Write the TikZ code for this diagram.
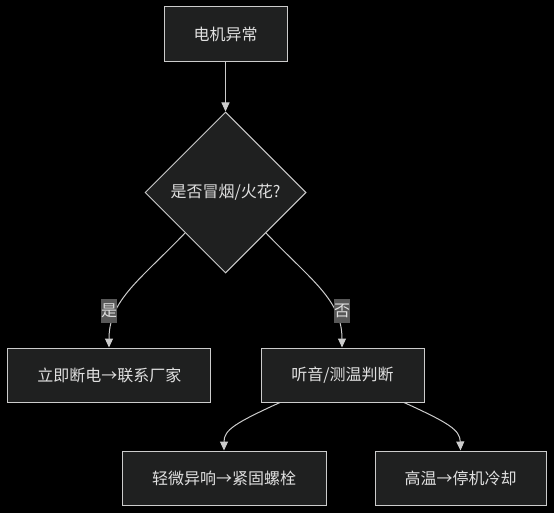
\documentclass[tikz,border=0pt]{standalone}
\usepackage{fontspec}
\setmainfont{Noto Sans CJK SC}
\usetikzlibrary{shapes.geometric,arrows.meta}
\definecolor{bgc}{HTML}{000000}
\definecolor{boxfill}{HTML}{1F2020}
\definecolor{boxline}{HTML}{CCCCCC}
\definecolor{txt}{HTML}{E0E0E0}
\definecolor{lblfill}{HTML}{585858}
\tikzset{
  x=1pt, y=-1pt,
  box/.style={draw=boxline, fill=boxfill, line width=1pt, text=txt, font=\fontsize{16}{19}\selectfont, inner sep=0pt, anchor=center},
  dia/.style={diamond, draw=boxline, fill=boxfill, line width=1pt, text=txt, font=\fontsize{16}{19}\selectfont, inner sep=0pt, minimum width=161pt, minimum height=161pt},
  lbl/.style={fill=lblfill, text=txt, font=\fontsize{16}{19}\selectfont, inner sep=0pt, minimum width=16pt, minimum height=24pt},
  conn/.style={draw=boxline, line width=1pt, -{Triangle[length=9pt,width=8pt]}},
}
\begin{document}
\begin{tikzpicture}
\fill[bgc] (0,0) rectangle (554,513);
\useasboundingbox (0,0) rectangle (554,513);
\node[box, minimum width=123pt, minimum height=55pt] (a) at (225.5,34.5) {电机异常};
\node[dia] (d) at (225.5,192.5) {是否冒烟/火花?};
\node[box, minimum width=203pt, minimum height=54pt] (l) at (109.3,375) {立即断电→联系厂家};
\node[box, minimum width=163pt, minimum height=54pt] (r) at (342.5,375) {听音/测温判断};
\node[box, minimum width=204pt, minimum height=54pt] (bl) at (224,478) {轻微异响→紧固螺栓};
\node[box, minimum width=171pt, minimum height=54pt] (br) at (460.5,478) {高温→停机冷却};
\draw[conn] (a.south) -- (d.north);
\draw[conn] (d.south west) .. controls (140,280) and (109,300) .. (l.north -| 109,0);
\draw[conn] (d.south east) .. controls (311,280) and (342,300) .. (r.north -| 342,0);
\draw[conn] ([xshift=-62.5pt]r.south) .. controls (235,423) and (224,430) .. (bl.north);
\draw[conn] ([xshift=61.5pt]r.south) .. controls (449,423) and (460,430) .. (br.north);
\node[lbl] (yes) at (109,311) {是};
\node[lbl] (no) at (342,311) {否};
\end{tikzpicture}
\end{document}
